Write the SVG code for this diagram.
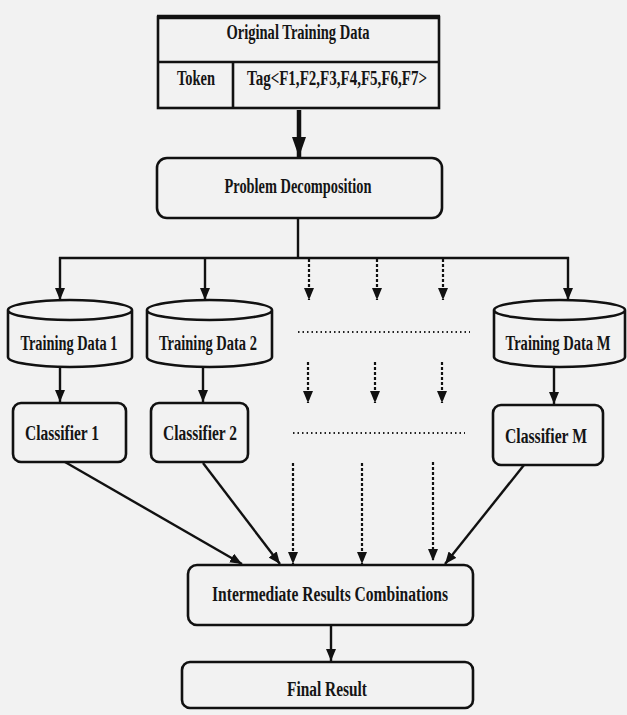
<svg xmlns="http://www.w3.org/2000/svg" width="627" height="715" viewBox="0 0 627 715">
<defs>
<style>
.box{fill:#f2f2f2;stroke:#111;stroke-width:2.6}
.ln{fill:none;stroke:#111;stroke-width:2.4}
.thick{fill:none;stroke:#111;stroke-width:4.5}
.dl{fill:none;stroke:#111;stroke-width:2.2;stroke-dasharray:3 2}
.dots{fill:none;stroke:#222;stroke-width:2;stroke-dasharray:1.5 3}
.t{font-family:"Liberation Serif","Times New Roman",serif;font-weight:bold;font-size:20px;fill:#151515;text-anchor:middle}
</style>
<marker id="ah" viewBox="0 0 12 10" refX="12" refY="5" markerWidth="12" markerHeight="10" markerUnits="userSpaceOnUse" orient="auto">
<path d="M0,0 L12,5 L0,10 z" fill="#111"/>
</marker>
<marker id="ahb" viewBox="0 0 20 14" refX="20" refY="7" markerWidth="20" markerHeight="14" markerUnits="userSpaceOnUse" orient="auto">
<path d="M0,0 L20,7 L0,14 z" fill="#111"/>
</marker>
</defs>
<rect width="627" height="715" fill="#f2f2f2"/>

<g id="original-data">
<rect class="box" x="158" y="17" width="281" height="91"/>
<line class="box" x1="158" y1="62" x2="439" y2="62"/>
<line class="box" x1="233" y1="62" x2="233" y2="108"/>
<line class="thick" x1="157" y1="17" x2="440" y2="17"/>
<text class="t" x="298" y="39" textLength="143" lengthAdjust="spacingAndGlyphs">Original Training Data</text>
<text class="t" x="196" y="85" textLength="38" lengthAdjust="spacingAndGlyphs">Token</text>
<text class="t" x="337" y="85" textLength="180" lengthAdjust="spacingAndGlyphs">Tag&lt;F1,F2,F3,F4,F5,F6,F7&gt;</text>
</g>

<g id="problem-decomposition">
<rect class="box" x="157" y="158" width="285" height="60" rx="10"/>
<text class="t" x="298" y="193" textLength="147" lengthAdjust="spacingAndGlyphs">Problem Decomposition</text>
</g>

<g id="training-data-1">
<path class="box" d="M8,310 L8,357 A62,10 0 0 0 132,357 L132,310 A62,10 0 0 0 8,310 A62,10 0 0 0 132,310"/>
<text class="t" x="69" y="350" textLength="97" lengthAdjust="spacingAndGlyphs">Training Data 1</text>
</g>
<g id="training-data-2">
<path class="box" d="M147,310 L147,357 A62.5,10 0 0 0 272,357 L272,310 A62.5,10 0 0 0 147,310 A62.5,10 0 0 0 272,310"/>
<text class="t" x="208" y="350" textLength="98" lengthAdjust="spacingAndGlyphs">Training Data 2</text>
</g>
<g id="training-data-m">
<path class="box" d="M494,310 L494,357 A65.5,10 0 0 0 625,357 L625,310 A65.5,10 0 0 0 494,310 A65.5,10 0 0 0 625,310"/>
<text class="t" x="558" y="350" textLength="105" lengthAdjust="spacingAndGlyphs">Training Data M</text>
</g>

<g id="classifier-1">
<rect class="box" x="13" y="403" width="113" height="59" rx="8"/>
<text class="t" x="62" y="440" textLength="74" lengthAdjust="spacingAndGlyphs">Classifier 1</text>
</g>
<g id="classifier-2">
<rect class="box" x="151" y="403" width="97" height="59" rx="8"/>
<text class="t" x="200" y="440" textLength="74" lengthAdjust="spacingAndGlyphs">Classifier 2</text>
</g>
<g id="classifier-m">
<rect class="box" x="493" y="405" width="110" height="60" rx="8"/>
<text class="t" x="546" y="443" textLength="82" lengthAdjust="spacingAndGlyphs">Classifier M</text>
</g>

<g id="intermediate">
<rect class="box" x="188" y="565" width="285" height="60" rx="9"/>
<text class="t" x="330" y="601" textLength="236" lengthAdjust="spacingAndGlyphs">Intermediate Results Combinations</text>
</g>

<g id="final-result">
<rect class="box" x="182" y="662" width="291" height="46" rx="8"/>
<text class="t" x="327" y="696" textLength="80" lengthAdjust="spacingAndGlyphs">Final Result</text>
</g>

<g id="connectors">
<line class="thick" x1="299" y1="110" x2="299" y2="157" marker-end="url(#ahb)"/>
<line class="ln" x1="298" y1="218" x2="298" y2="258"/>
<line class="ln" x1="59" y1="258" x2="569" y2="258"/>
<line class="ln" x1="60" y1="257" x2="60" y2="300" marker-end="url(#ah)"/>
<line class="ln" x1="205" y1="257" x2="205" y2="300" marker-end="url(#ah)"/>
<line class="ln" x1="568" y1="257" x2="568" y2="300" marker-end="url(#ah)"/>
<line class="dl" x1="309" y1="259" x2="309" y2="300" marker-end="url(#ah)"/>
<line class="dl" x1="377" y1="259" x2="377" y2="300" marker-end="url(#ah)"/>
<line class="dl" x1="443" y1="259" x2="443" y2="300" marker-end="url(#ah)"/>
<line class="dots" x1="298" y1="332" x2="470" y2="332"/>
<line class="dl" x1="308" y1="362" x2="308" y2="403" marker-end="url(#ah)"/>
<line class="dl" x1="375" y1="362" x2="375" y2="403" marker-end="url(#ah)"/>
<line class="dl" x1="442" y1="362" x2="442" y2="403" marker-end="url(#ah)"/>
<line class="dots" x1="293" y1="433" x2="465" y2="433"/>
<line class="ln" x1="60" y1="367" x2="60" y2="402" marker-end="url(#ah)"/>
<line class="ln" x1="203" y1="367" x2="203" y2="402" marker-end="url(#ah)"/>
<line class="ln" x1="554" y1="367" x2="554" y2="404" marker-end="url(#ah)"/>
<line class="ln" x1="65" y1="462" x2="242" y2="564" marker-end="url(#ah)"/>
<line class="ln" x1="203" y1="463" x2="280" y2="564" marker-end="url(#ah)"/>
<line class="ln" x1="524" y1="465" x2="445" y2="564" marker-end="url(#ah)"/>
<line class="dl" x1="293" y1="463" x2="293" y2="564" marker-end="url(#ah)"/>
<line class="dl" x1="362" y1="463" x2="362" y2="564" marker-end="url(#ah)"/>
<line class="dl" x1="433" y1="462" x2="433" y2="561" marker-end="url(#ah)"/>
<line class="ln" x1="331" y1="625" x2="331" y2="661" marker-end="url(#ah)"/>
</g>
</svg>
